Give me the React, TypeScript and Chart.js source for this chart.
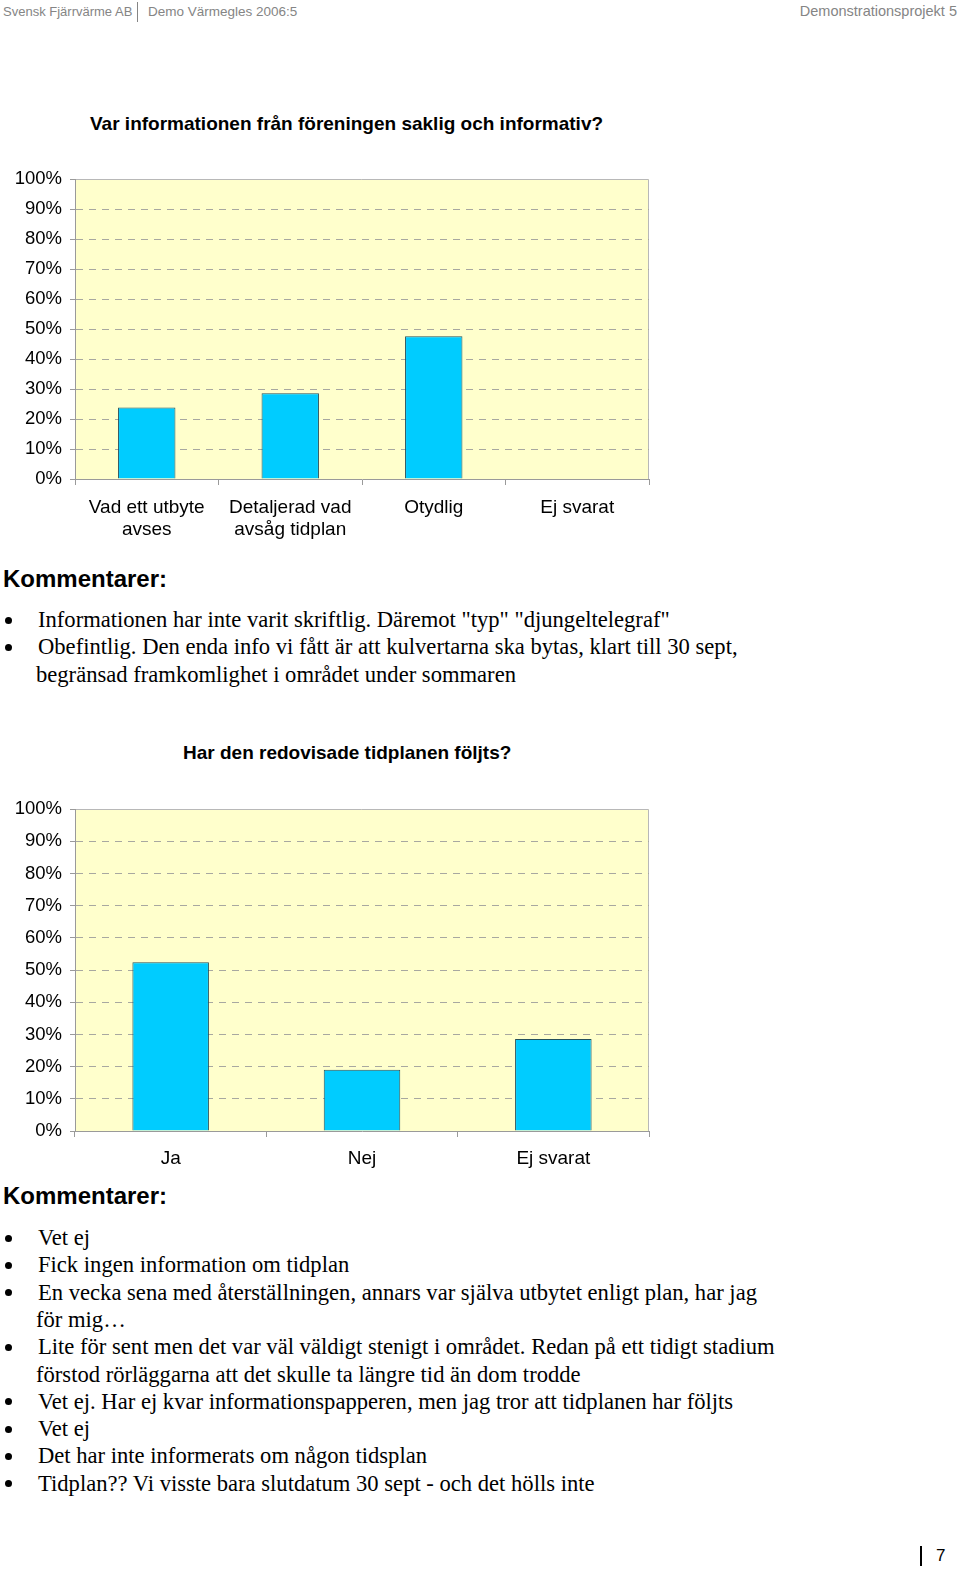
import React, { useEffect, useRef } from 'react';
import { Chart, registerables } from 'chart.js';

Chart.register(...registerables);

// ---------- data ----------
const chart1Title = 'Var informationen från föreningen saklig och informativ?';
const chart1Categories: (string | string[])[] = [
  ['Vad ett utbyte', 'avses'],
  ['Detaljerad vad', 'avsåg tidplan'],
  'Otydlig',
  'Ej svarat',
];
const chart1Values = [23.8, 28.6, 47.6, 0];

const chart2Title = 'Har den redovisade tidplanen följts?';
const chart2Categories: string[] = ['Ja', 'Nej', 'Ej svarat'];
const chart2Values = [52.4, 19.0, 28.6];

const yMin = 0;
const yMax = 100;
const yStep = 10;

const comments1: string[][] = [
  ['Informationen har inte varit skriftlig. Däremot "typ" "djungeltelegraf"'],
  [
    'Obefintlig. Den enda info vi fått är att kulvertarna ska bytas, klart till 30 sept,',
    'begränsad framkomlighet i området under sommaren',
  ],
];
const comments2: string[][] = [
  ['Vet ej'],
  ['Fick ingen information om tidplan'],
  ['En vecka sena med återställningen, annars var själva utbytet enligt plan, har jag', 'för mig…'],
  [
    'Lite för sent men det var väl väldigt stenigt i området. Redan på ett tidigt stadium',
    'förstod rörläggarna att det skulle ta längre tid än dom trodde',
  ],
  ['Vet ej. Har ej kvar informationspapperen, men jag tror att tidplanen har följts'],
  ['Vet ej'],
  ['Det har inte informerats om någon tidsplan'],
  ['Tidplan?? Vi visste bara slutdatum 30 sept - och det hölls inte'],
];

const SANS = "'Liberation Sans', Arial, Helvetica, sans-serif";
const SERIF = "'Liberation Serif', 'Times New Roman', Times, serif";

const plotBg = {
  id: 'plotBg',
  beforeDraw(chart: any) {
    const { ctx, chartArea } = chart;
    const { left, top, right, bottom } = chartArea;
    ctx.save();
    ctx.fillStyle = '#FFFFCC';
    ctx.fillRect(left, top, right - left, bottom - top);
    ctx.strokeStyle = '#b8b8b8';
    ctx.lineWidth = 1;
    ctx.beginPath();
    ctx.moveTo(left, Math.round(top) + 0.5);
    ctx.lineTo(Math.round(right) - 0.5, Math.round(top) + 0.5);
    ctx.lineTo(Math.round(right) - 0.5, bottom);
    ctx.stroke();
    ctx.restore();
  },
};

type BarProps = {
  labels: (string | string[])[];
  values: number[];
  width: number;
  height: number;
  padTop: number;
  plotHeight: number;
  tickPad: number;
};

function BarChart({ labels, values, width, height, padTop, plotHeight, tickPad }: BarProps) {
  const ref = useRef<HTMLCanvasElement | null>(null);
  useEffect(() => {
    if (!ref.current) return;
    const xHeight = height - padTop - plotHeight;
    const chart = new Chart(ref.current, {
      type: 'bar',
      data: {
        labels,
        datasets: [
          {
            data: values,
            backgroundColor: '#00CCFF',
            borderColor: '#24505c',
            borderWidth: 1,
            barPercentage: 0.4,
            categoryPercentage: 1,
          },
        ],
      },
      options: {
        responsive: false,
        animation: false,
        devicePixelRatio: 1,
        layout: { padding: { top: padTop, right: 11, left: 0, bottom: 0 } },
        plugins: { legend: { display: false }, tooltip: { enabled: false } },
        scales: {
          x: {
            grid: {
              offset: true,
              drawOnChartArea: false,
              drawTicks: true,
              tickLength: 6,
              color: '#9a9a9a',
              tickColor: '#9a9a9a',
            },
            border: { display: true, color: '#9a9a9a', width: 1 },
            ticks: {
              color: '#000',
              font: { family: SANS, size: 19 },
              padding: tickPad,
              maxRotation: 0,
              autoSkip: false,
            },
            afterFit: (s: any) => {
              s.height = xHeight;
            },
          },
          y: {
            min: yMin,
            max: yMax,
            ticks: {
              stepSize: yStep,
              color: '#000',
              font: { family: SANS, size: 18.5 },
              padding: 8,
              callback: (v: any) => `${v}%`,
            },
            grid: {
              color: (c: any) =>
                c.tick && (c.tick.value === yMax || c.tick.value === yMin) ? 'rgba(0,0,0,0)' : '#a8a8a0',
              tickColor: '#9a9a9a',
              tickLength: 5,
              lineWidth: 1,
            },
            border: { display: true, color: '#9a9a9a', width: 1, dash: [7, 6] },
            afterFit: (s: any) => {
              s.width = 75;
            },
          },
        },
      },
      plugins: [plotBg],
    } as any);
    return () => chart.destroy();
  }, []);
  return <canvas ref={ref} width={width} height={height} style={{ display: 'block' }} />;
}

const LINE = 27.3;

function CommentList({ items, firstCenter }: { items: string[][]; firstCenter: number }) {
  const nodes: React.ReactNode[] = [];
  let k = 0;
  items.forEach((lines, i) => {
    lines.forEach((line, j) => {
      const center = firstCenter + k * LINE;
      if (j === 0) {
        nodes.push(
          <div
            key={`b${i}`}
            style={{
              position: 'absolute',
              left: 5,
              top: center - 3.5,
              width: 7,
              height: 7,
              borderRadius: '50%',
              background: '#000',
            }}
          />
        );
      }
      nodes.push(
        <div
          key={`t${i}-${j}`}
          style={{
            position: 'absolute',
            left: j === 0 ? 38 : 36,
            top: center - 14,
            height: 28,
            lineHeight: '28px',
            fontFamily: SERIF,
            fontSize: 22.6,
            color: '#000',
            whiteSpace: 'nowrap',
          }}
        >
          {line}
        </div>
      );
      k++;
    });
  });
  return <>{nodes}</>;
}

function Text({ x, cy, size, bold, children, color = '#000', family = SANS, right }: any) {
  return (
    <div
      style={{
        position: 'absolute',
        left: right === undefined ? x : undefined,
        right: right !== undefined ? right : undefined,
        top: cy - size * 0.6,
        height: size * 1.2,
        lineHeight: `${size * 1.2}px`,
        fontFamily: family,
        fontSize: size,
        fontWeight: bold ? 'bold' : 'normal',
        color,
        whiteSpace: 'nowrap',
      }}
    >
      {children}
    </div>
  );
}

export default function App() {
  return (
    <div
      style={{
        position: 'absolute',
        left: 0,
        top: 0,
        width: 960,
        height: 1588,
        background: '#fff',
        overflow: 'hidden',
      }}
    >
      {/* header */}
      <Text x={3} cy={12} size={13} color="#858585">Svensk Fjärrvärme AB</Text>
      <div style={{ position: 'absolute', left: 137, top: 2, width: 1, height: 20, background: '#858585' }} />
      <Text x={148} cy={12} size={13.5} color="#858585">Demo Värmegles 2006:5</Text>
      <Text right={3} cy={12} size={14.5} color="#858585">Demonstrationsprojekt 5</Text>

      {/* chart 1 */}
      <Text x={90} cy={124} size={19} bold>{chart1Title}</Text>
      <div style={{ position: 'absolute', left: 0, top: 160 }}>
        <BarChart
          labels={chart1Categories}
          values={chart1Values}
          width={660}
          height={400}
          padTop={16}
          plotHeight={303}
          tickPad={11}
        />
      </div>
      <Text x={3} cy={579} size={24} bold>Kommentarer:</Text>
      <CommentList items={comments1} firstCenter={620} />

      {/* chart 2 */}
      <Text x={183} cy={753} size={19} bold>{chart2Title}</Text>
      <div style={{ position: 'absolute', left: 0, top: 790 }}>
        <BarChart
          labels={chart2Categories}
          values={chart2Values}
          width={660}
          height={385}
          padTop={17}
          plotHeight={324}
          tickPad={10}
        />
      </div>
      <Text x={3} cy={1196} size={24} bold>Kommentarer:</Text>
      <CommentList items={comments2} firstCenter={1238} />

      {/* page number */}
      <div style={{ position: 'absolute', left: 920, top: 1546, width: 2, height: 20, background: '#000' }} />
      <Text x={936} cy={1556} size={17}>7</Text>
    </div>
  );
}
